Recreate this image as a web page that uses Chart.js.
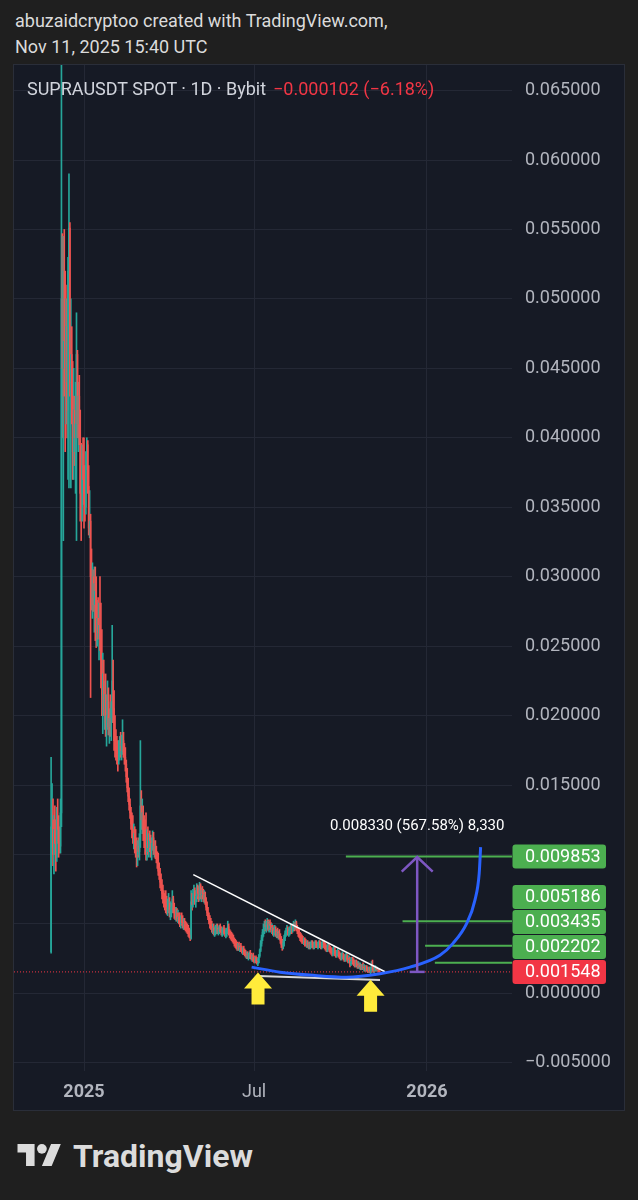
<!DOCTYPE html>
<html><head><meta charset="utf-8">
<script src="https://cdn.jsdelivr.net/npm/chart.js@4.4.1/dist/chart.umd.min.js"></script>
<style>
html,body{margin:0;padding:0;background:#1f1f1f;}
body{width:638px;height:1200px;position:relative;overflow:hidden;font-family:Roboto,'Noto Sans',sans-serif;}
.hdr{position:absolute;left:15px;font-size:18px;line-height:22px;color:#dbdbdb;white-space:nowrap;}
#panel{position:absolute;left:14px;top:65px;width:610px;height:1045px;background:#161a25;box-shadow:0 0 0 1px #2a2e39;}
#panel canvas{position:absolute;left:0;top:0;}
.lg{position:absolute;top:13px;font-size:18px;line-height:22px;white-space:nowrap;z-index:2;}
#logo{position:absolute;left:0;top:1120px;}
</style></head>
<body>
<div class="hdr" style="top:10px">abuzaidcryptoo created with TradingView.com,</div>
<div class="hdr" style="top:36px">Nov 11, 2025 15:40 UTC</div>
<div id="panel">
  <canvas id="c" width="610" height="1045"></canvas>
  <div class="lg" style="left:13px;color:#d1d4dc">SUPRAUSDT SPOT · 1D · Bybit</div>
  <div class="lg" style="left:259px;color:#f23645">−0.000102 (−6.18%)</div>
</div>
<svg id="logo" width="638" height="80">
  <g transform="translate(17.5,19.1) scale(1.22)" fill="#dcdcdc">
    <path d="M14 22H7V11H0V4h14v18zM28 22h-8l7.5-18h8L28 22z"/><circle cx="20" cy="8" r="4"/>
  </g>
  <text x="73" y="47" font-family="Roboto" font-weight="700" font-size="32" fill="#dcdcdc">TradingView</text>
</svg>
<script>
// ---- data: daily candles, day 0 = 2025-01-01, first candle 2024-11-27 ----
const startDay = -35;
const firstOpen = .0030;
const closes = [
.0120,.0125,.0100,.0118,.0108,.0098,.0125,.0118,.0110,.0106,
.0130,.0500,.0450,.0520,.0470,.0440,.0480,.0420,.0520,.0551,
.0440,.0460,.0430,.0390,.0420,.0400,.0410,.0460,.0410,.0430,
.0400,.0360,.0350,.0380,.0370,.0360,.0350,.0380,.0395,.0365,
.0335,.0340,.0300,.0285,.0300,.0280,.0295,.0290,.0265,.0270,
.0260,.0265,.0255,.0240,.0215,.0230,.0205,.0215,.0195,.0200,
.0210,.0192,.0198,.0190,.0205,.0225,.0205,.0182,.0178,.0175,
.0170,.0168,.0172,.0178,.0175,.0180,.0182,.0174,.0170,.0165,
.0156,.0148,.0142,.0136,.0130,.0122,.0118,.0112,.0115,.0108,
.0104,.0100,.0106,.0102,.0110,.0135,.0125,.0130,.0118,.0112,
.0108,.0102,.0110,.0105,.0112,.0110,.0104,.0108,.0112,.0104,
.0106,.0100,.0098,.0094,.0088,.0085,.0080,.0078,.0072,.0068,
.0066,.0064,.0062,.0060,.0062,.0065,.0058,.0060,.0062,.0068,
.0060,.0058,.0056,.0058,.0054,.0055,.0052,.0050,.0053,.0051,
.0049,.0050,.0048,.0047,.0046,.0045,.0043,.0042,.0040,.0066,
.0064,.0070,.0074,.0068,.0070,.0076,.0072,.0070,.0078,.0071,
.0074,.0072,.0069,.0071,.0066,.0062,.0058,.0055,.0052,.0050,
.0048,.0046,.0047,.0044,.0045,.0046,.0047,.0045,.0046,.0047,
.0045,.0044,.0045,.0046,.0044,.0043,.0044,.0045,.0048,.0044,
.0042,.0041,.0040,.0039,.0037,.0036,.0035,.0034,.0033,.0034,
.0032,.0033,.0031,.0030,.0031,.0029,.0028,.0027,.0027,.0026,
.0027,.0028,.0026,.0025,.0026,.0024,.0023,.0024,.0023,.0022,
.0022,.0027,.0031,.0036,.0040,.0044,.0046,.0049,.0048,.0050,
.0051,.0047,.0050,.0049,.0046,.0047,.0044,.0045,.0046,.0043,
.0044,.0042,.0043,.0040,.0038,.0035,.0034,.0036,.0040,.0043,
.0045,.0046,.0044,.0045,.0047,.0048,.0046,.0048,.0050,.0049,
.0051,.0047,.0045,.0043,.0041,.0040,.0039,.0038,.0037,.0038,
.0036,.0035,.0036,.0034,.0035,.0034,.0035,.0036,.0035,.0034,
.0035,.0036,.0035,.0034,.0035,.0036,.0035,.0034,.0035,.0036,
.0035,.0034,.0033,.0032,.0033,.0034,.0032,.0031,.0030,.0029,
.0030,.0031,.0029,.0028,.0029,.0030,.0028,.0027,.0026,.0027,
.0028,.0026,.0025,.0026,.0027,.0025,.0024,.0024,.0022,.0023,
.0024,.0023,.0022,.0021,.0022,.0021,.0020,.0020,.0019,.0019,
.0018,.0019,.0018,.0018,.0017,.0018,.0017,.0016,.0017,.0016,
.0016,.0018,.0017,.0016,.0017,.0018,.0017,.0017,.00165,.001548];
const highs = [
.0170,.0151,.0140,.0128,.0135,.0125,.0134,.0140,.0128,.0120,
.0140,.0680,.0547,.0545,.0550,.0520,.0500,.0510,.0530,.0590,
.0555,.0500,.0480,.0455,.0450,.0430,.0440,.0490,.0463,.0440,
.0445,.0420,.0396,.0395,.0400,.0400,.0380,.0390,.0400,.0398,
.0380,.0362,.0345,.0320,.0310,.0305,.0307,.0307,.0300,.0283,
.0285,.0281,.0300,.0281,.0262,.0245,.0240,.0225,.0230,.0215,
.0225,.0220,.0205,.0215,.0210,.0265,.0240,.0218,.0200,.0190,
.0185,.0182,.0182,.0185,.0188,.0186,.0197,.0188,.0180,.0177,
.0168,.0162,.0155,.0148,.0140,.0134,.0130,.0128,.0122,.0120,
.0118,.0112,.0110,.0112,.0115,.0182,.0146,.0140,.0135,.0128,
.0125,.0130,.0118,.0120,.0115,.0117,.0114,.0112,.0117,.0116,
.0110,.0110,.0106,.0102,.0101,.0094,.0090,.0086,.0082,.0078,
.0074,.0072,.0074,.0070,.0068,.0072,.0069,.0066,.0065,.0074,
.0070,.0065,.0062,.0062,.0061,.0060,.0058,.0058,.0056,.0058,
.0056,.0054,.0054,.0052,.0051,.0050,.0049,.0047,.0046,.0074,
.0072,.0075,.0078,.0076,.0074,.0079,.0078,.0077,.0080,.0079,
.0076,.0077,.0075,.0074,.0073,.0069,.0066,.0062,.0058,.0056,
.0054,.0052,.0050,.0050,.0048,.0049,.0050,.0050,.0048,.0049,
.0050,.0048,.0047,.0048,.0049,.0047,.0046,.0047,.0052,.0050,
.0046,.0045,.0044,.0043,.0042,.0040,.0039,.0038,.0037,.0036,
.0037,.0035,.0036,.0034,.0033,.0034,.0032,.0031,.0030,.0030,
.0029,.0030,.0031,.0029,.0028,.0029,.0027,.0026,.0027,.0026,
.0025,.0028,.0032,.0038,.0042,.0046,.0050,.0052,.0053,.0052,
.0054,.0053,.0052,.0053,.0051,.0050,.0049,.0048,.0049,.0048,
.0046,.0047,.0045,.0046,.0043,.0041,.0039,.0038,.0042,.0045,
.0047,.0049,.0048,.0047,.0048,.0050,.0049,.0050,.0052,.0051,
.0053,.0052,.0049,.0047,.0046,.0044,.0043,.0042,.0041,.0040,
.0040,.0039,.0038,.0038,.0037,.0037,.0037,.0038,.0038,.0037,
.0037,.0038,.0038,.0037,.0037,.0038,.0038,.0037,.0037,.0038,
.0038,.0037,.0036,.0035,.0035,.0036,.0035,.0034,.0033,.0032,
.0033,.0034,.0033,.0031,.0031,.0032,.0031,.0030,.0029,.0029,
.0030,.0029,.0028,.0028,.0029,.0028,.0027,.0027,.0026,.0025,
.0026,.0026,.0025,.0024,.0024,.0024,.0023,.0023,.0022,.0022,
.0021,.0021,.0022,.0021,.0020,.0020,.0020,.0019,.0019,.0019,
.0019,.0023,.0024,.0020,.0019,.0020,.0019,.0019,.0018,.00168];
const lows = [
.0029,.0105,.0092,.0086,.0100,.0088,.0095,.0108,.0098,.0101,
.0101,.0120,.0400,.0326,.0430,.0390,.0410,.0400,.0370,.0364,
.0430,.0364,.0410,.0370,.0370,.0380,.0360,.0326,.0400,.0390,
.0395,.0340,.0326,.0340,.0352,.0335,.0340,.0345,.0377,.0360,
.0330,.0328,.0213,.0276,.0270,.0275,.0260,.0254,.0249,.0250,
.0255,.0240,.0247,.0220,.0200,.0187,.0200,.0190,.0185,.0178,
.0190,.0186,.0180,.0185,.0182,.0195,.0195,.0175,.0170,.0168,
.0165,.0160,.0165,.0168,.0170,.0168,.0172,.0170,.0165,.0160,
.0152,.0145,.0138,.0132,.0126,.0118,.0112,.0108,.0104,.0101,
.0098,.0091,.0092,.0098,.0096,.0105,.0118,.0115,.0110,.0105,
.0100,.0096,.0096,.0100,.0098,.0102,.0098,.0096,.0103,.0100,
.0098,.0097,.0094,.0090,.0085,.0082,.0076,.0074,.0068,.0065,
.0062,.0060,.0058,.0057,.0056,.0058,.0055,.0053,.0055,.0058,
.0058,.0054,.0053,.0052,.0052,.0051,.0050,.0048,.0047,.0049,
.0047,.0046,.0046,.0045,.0044,.0043,.0041,.0040,.0038,.0039,
.0060,.0062,.0066,.0064,.0062,.0066,.0068,.0066,.0067,.0068,
.0066,.0068,.0066,.0065,.0064,.0060,.0056,.0053,.0050,.0047,
.0046,.0044,.0043,.0042,.0041,.0042,.0043,.0043,.0042,.0043,
.0044,.0042,.0041,.0042,.0043,.0041,.0040,.0041,.0043,.0042,
.0040,.0039,.0038,.0037,.0036,.0034,.0033,.0032,.0031,.0031,
.0031,.0030,.0030,.0029,.0028,.0028,.0027,.0026,.0025,.0025,
.0024,.0025,.0025,.0024,.0023,.0023,.0022,.0022,.0022,.0021,
.0020,.0022,.0026,.0030,.0034,.0038,.0041,.0043,.0045,.0044,
.0046,.0045,.0044,.0046,.0044,.0043,.0042,.0041,.0042,.0041,
.0040,.0040,.0039,.0039,.0036,.0033,.0031,.0032,.0034,.0038,
.0041,.0042,.0042,.0041,.0042,.0043,.0043,.0044,.0045,.0045,
.0046,.0045,.0043,.0041,.0040,.0038,.0037,.0036,.0036,.0035,
.0034,.0034,.0033,.0033,.0032,.0032,.0032,.0033,.0033,.0032,
.0032,.0033,.0033,.0033,.0032,.0033,.0033,.0032,.0032,.0033,
.0033,.0032,.0031,.0030,.0030,.0031,.0030,.0029,.0028,.0027,
.0027,.0028,.0027,.0026,.0026,.0027,.0026,.0025,.0024,.0024,
.0025,.0024,.0023,.0023,.0024,.0023,.0022,.0022,.0019,.0020,
.0021,.0021,.0020,.0019,.0019,.0019,.0018,.0018,.0018,.0017,
.0017,.0017,.0017,.0016,.0016,.0016,.0016,.0015,.0015,.0015,
.0014,.0015,.0016,.0015,.0015,.0016,.0016,.0016,.0016,.00152];

// axis ticks
const yTicks = [-0.005,0,0.005,0.010,0.015,0.020,0.025,0.030,0.035,0.040,0.045,0.050,0.055,0.060,0.065];
const xTickDays = [0, 181, 365];
const xTickLabels = ['2025','Jul','2026'];
const xTickBold = [true, false, true];

// drawings (day, price)
const lastPrice = 0.001548;
const levelPrices = [0.009853, 0.005186, 0.003435, 0.002202];
const levelStartDays = [278.7, 339, 363, 373.4];
const trendDays = [116.3, 320.3];
const trendPrices = [0.00855, 0.00156];
const baseDays = [185.2, 315];
const basePrices = [0.00126, 0.00097];
const cupDays = [178.4, 208.6, 244, 279.5, 315, 347, 378.8, 392.7, 407.3, 416, 420.6, 422.1];
const cupPrices = [0.00189, 0.00153, 0.00130, 0.00117, 0.00142, 0.00189, 0.00274, 0.00360, 0.00504, 0.00670, 0.00864, 0.01053];
const rangeDay = 354.6, rangeFrom = 0.001548, rangeTo = 0.009853;
const rangeLabel = '0.008330 (567.58%) 8,330';
const arrowDays = [185.2, 305];
const arrowPrices = [0.00151, 0.00099];

// view range
const xMin = -74.5, xMax = 455.5, yMin = -0.005587, yMax = 0.066840;

// styles
const UP = '#26a69a', DOWN = '#ef5350', GREEN = '#4caf50', RED = '#f23645';
const GRID = '#242835', LABEL = '#b2b5be', FONT = 'Roboto';

function seg(points, color, width, extra) {
  return Object.assign({type:'line', data: points, borderColor: color, borderWidth: width,
    pointRadius: 0, fill: false, tension: 0}, extra || {});
}
function drawArrow(ctx, x, y) {
  ctx.beginPath();
  ctx.moveTo(x, y); ctx.lineTo(x + 14, y + 16); ctx.lineTo(x + 6.5, y + 16);
  ctx.lineTo(x + 6.5, y + 32); ctx.lineTo(x - 6.5, y + 32); ctx.lineTo(x - 6.5, y + 16);
  ctx.lineTo(x - 14, y + 16); ctx.closePath();
  ctx.fillStyle = '#ffeb3b'; ctx.fill();
}
function noPad(s) { s.paddingTop = 0; s.paddingBottom = 0; s.paddingLeft = 0; s.paddingRight = 0; }

const overlay = {
  id: 'overlay',
  afterDatasetsDraw(chart) {
    const {ctx, chartArea: a} = chart;
    const x = chart.scales.x, y = chart.scales.y;
    ctx.save();
    ctx.beginPath(); ctx.rect(a.left, a.top, a.right - a.left, a.bottom - a.top); ctx.clip();
    const rx = x.getPixelForValue(rangeDay), y0 = y.getPixelForValue(rangeFrom), y1 = y.getPixelForValue(rangeTo);
    ctx.strokeStyle = '#7e57c2'; ctx.lineWidth = 2.5; ctx.lineCap = 'butt';
    ctx.beginPath(); ctx.moveTo(rx, y0); ctx.lineTo(rx, y1 + 1); ctx.stroke();
    ctx.beginPath(); ctx.moveTo(rx - 7.5, y0); ctx.lineTo(rx + 7.5, y0); ctx.stroke();
    ctx.beginPath(); ctx.moveTo(rx - 15.5, y1 + 15); ctx.lineTo(rx, y1 + 0.5); ctx.lineTo(rx + 15.5, y1 + 15); ctx.stroke();
    ctx.fillStyle = '#ffffff'; ctx.font = '15px ' + FONT; ctx.textAlign = 'center'; ctx.textBaseline = 'middle';
    ctx.fillText(rangeLabel, rx, y1 - 30);
    arrowDays.forEach((d, i) => drawArrow(ctx, x.getPixelForValue(d), y.getPixelForValue(arrowPrices[i])));
    ctx.restore();
    const BOX_H = 25;
    const labels = levelPrices.map(p => ({p, color: GREEN})).concat([{p: lastPrice, color: RED}])
      .sort((m, n) => m.p - n.p);
    let prev = Infinity;
    ctx.save();
    ctx.font = '18px ' + FONT; ctx.textAlign = 'left'; ctx.textBaseline = 'middle';
    labels.forEach(l => {
      let cy = y.getPixelForValue(l.p);
      if (cy > prev - BOX_H) cy = prev - BOX_H;
      prev = cy;
      ctx.fillStyle = l.color;
      ctx.beginPath();
      const bx = a.right + 0.5, by = cy - BOX_H / 2 + 0.5, bw = 93.5, bh = BOX_H - 1;
      if (ctx.roundRect) ctx.roundRect(bx, by, bw, bh, 3); else ctx.rect(bx, by, bw, bh);
      ctx.fill();
      ctx.fillStyle = '#ffffff';
      ctx.fillText(l.p.toFixed(6), a.right + 13, cy + 1);
    });
    ctx.restore();
  }
};

function build() {
  const opens = closes.map((c, i) => i === 0 ? firstOpen : closes[i - 1]);
  const colors = closes.map((c, i) => c >= opens[i] ? UP : DOWN);
  const wickData = closes.map((c, i) => ({x: startDay + i,
    y: [Math.min(lows[i], opens[i], c), Math.max(highs[i], opens[i], c)]}));
  const bodyData = closes.map((c, i) => ({x: startDay + i, y: [Math.min(opens[i], c), Math.max(opens[i], c)]}));

  const datasets = [
    {type: 'bar', data: wickData, backgroundColor: colors, barThickness: 1, grouped: false, order: 20, clip: 0},
    {type: 'bar', data: bodyData, backgroundColor: colors, barThickness: 1, grouped: false, minBarLength: 1, order: 19, clip: 0},
    seg([{x: xMin, y: lastPrice}, {x: xMax, y: lastPrice}], RED, 1, {borderDash: [1, 2], order: 12}),
    seg(trendDays.map((d, i) => ({x: d, y: trendPrices[i]})), '#ffffff', 1.5, {order: 10}),
    seg(baseDays.map((d, i) => ({x: d, y: basePrices[i]})), '#d8d8d8', 2, {order: 10}),
  ];
  levelPrices.forEach((p, i) => datasets.push(seg([{x: levelStartDays[i], y: p}, {x: xMax, y: p}], GREEN, 2, {order: 8})));
  datasets.push(seg(cupDays.map((d, i) => ({x: d, y: cupPrices[i]})), '#2962ff', 3,
    {cubicInterpolationMode: 'monotone', order: 5}));

  new Chart(document.getElementById('c'), {
    type: 'bar',
    data: {datasets},
    plugins: [overlay],
    options: {
      responsive: false, animation: false, events: [],
      layout: {padding: 0},
      plugins: {legend: {display: false}, tooltip: {enabled: false}},
      scales: {
        x: {
          type: 'linear', min: xMin, max: xMax, offset: false, position: 'bottom',
          grid: {color: GRID, lineWidth: 1, drawTicks: false, offset: false},
          border: {display: false},
          afterBuildTicks: s => { s.ticks = xTickDays.map(v => ({value: v})); },
          afterFit: s => { s.height = 39; noPad(s); },
          ticks: {
            autoSkip: false, maxRotation: 0, padding: 11, color: LABEL,
            font: ctx => ({family: FONT, size: 18, weight: xTickBold[ctx.index] ? 'bold' : 'normal'}),
            callback: (v, i) => xTickLabels[i]
          }
        },
        y: {
          type: 'linear', position: 'right', min: yMin, max: yMax,
          grid: {color: GRID, lineWidth: 1, drawTicks: false},
          border: {display: false},
          afterBuildTicks: s => { s.ticks = yTicks.map(v => ({value: v})); },
          afterFit: s => { s.width = 112; noPad(s); },
          ticks: {
            padding: 13, crossAlign: 'near', color: LABEL, font: {family: FONT, size: 18},
            callback: v => (v < 0 ? '−' : '') + Math.abs(v).toFixed(6)
          }
        }
      }
    }
  });
}
(document.fonts && document.fonts.load ? Promise.all([document.fonts.load('18px Roboto'), document.fonts.load('bold 18px Roboto')]) : Promise.resolve())
  .then(build, build);
</script>
</body></html>
